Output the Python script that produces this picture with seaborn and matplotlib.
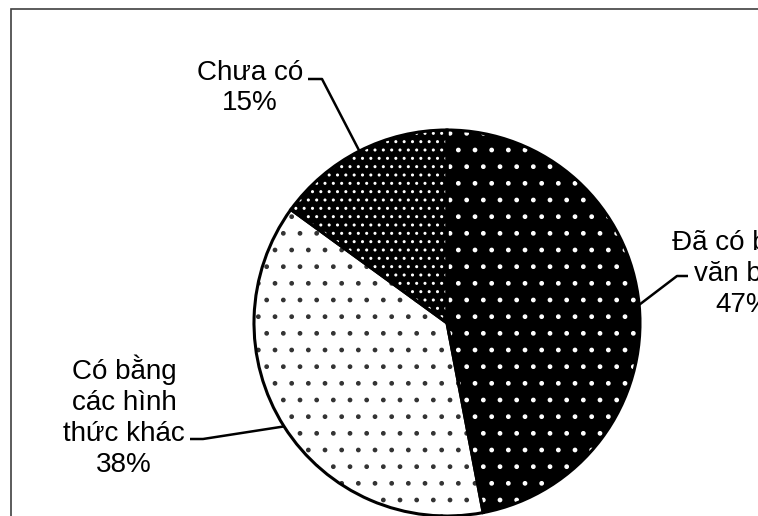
import numpy as np
import seaborn as sns
import matplotlib
matplotlib.use('Agg')
import matplotlib.pyplot as plt
from matplotlib.patches import Rectangle

# slice data, clockwise from 12 o'clock
labels = ['Đã có bằng\nvăn bản', 'Có bằng\ncác hình\nthức khác', 'Chưa có']
shares = [47, 38, 15]
faces = ['black', 'white', 'black']
dots = ['white', '#333333', 'white']
hatches = ['.', '.', '..']

W, H = 758, 516
sns.set_theme(style="white")
plt.rcParams['font.family'] = ['Liberation Sans', 'DejaVu Sans']
plt.rcParams['hatch.linewidth'] = 1.0

fig = plt.figure(figsize=(W / 100, H / 100), dpi=100)
fig.patch.set_facecolor('white')
ax = fig.add_axes([0, 0, 1, 1])

cx, cy, r = 447, H - 323, 193

wedges, _ = ax.pie(shares, center=(cx, cy), radius=r, startangle=90, counterclock=False,
                   colors=faces, wedgeprops=dict(linewidth=0))
for w, ec, h in zip(wedges, dots, hatches):
    w.set_edgecolor(ec)
    w.set_hatch(h)
    w.set_linewidth(0)

# outline
ax.pie(shares, center=(cx, cy), radius=r, startangle=90, counterclock=False,
       wedgeprops=dict(fill=False, edgecolor='black', linewidth=2.2))

ax.set_xlim(0, W)
ax.set_ylim(0, H)
ax.set_aspect('equal')
ax.axis('off')

# label placement (pixel coords from top-left): text centre, elbow, line end
place = [
    dict(txt=(743, 272), elbow=(677, 276), end=(688, 276)),
    dict(txt=(124, 416), elbow=(203, 439), end=(190, 439)),
    dict(txt=(250, 88), elbow=(322, 79), end=(308, 79)),
]

for w, lab, v, p in zip(wedges, labels, shares, place):
    mid = np.deg2rad((w.theta1 + w.theta2) / 2)
    ex, ey = cx + r * np.cos(mid), cy + r * np.sin(mid)
    ax.plot([ex, p['elbow'][0], p['end'][0]], [ey, H - p['elbow'][1], H - p['end'][1]],
            color='black', linewidth=1.8, solid_capstyle='butt')
    ax.text(p['txt'][0], H - p['txt'][1], '%s\n%d%%' % (lab, v), ha='center', va='center',
            fontsize=20, color='black', linespacing=1.25)

fig.patches.append(Rectangle((11 / W, -0.1), 1.2, 1.1 - 9 / H, transform=fig.transFigure,
                             fill=False, edgecolor='#404040', linewidth=1.2))

fig.savefig('out.png', dpi=100)
